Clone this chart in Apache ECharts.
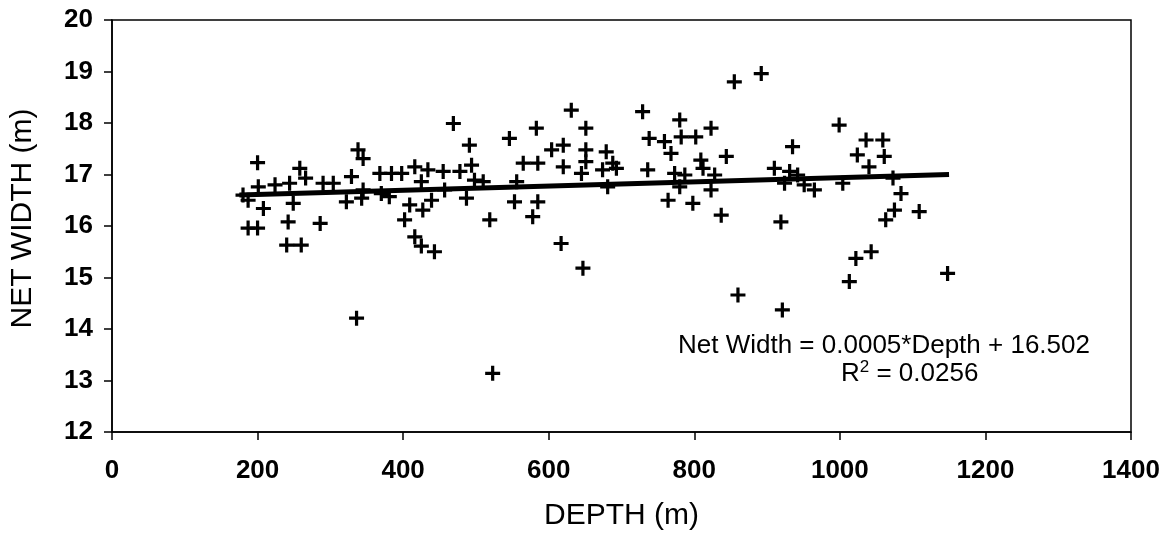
<!DOCTYPE html>
<html><head><meta charset="utf-8">
<script src="https://cdn.jsdelivr.net/npm/echarts@6/dist/echarts.min.js"></script>
<style>html,body{margin:0;padding:0;background:#fff}#c{width:1166px;height:541px}</style>
</head><body><div id="c"></div>
<script>
const depth = [200,258,266,338,345,329,180,201,224,244,187,208,249,290,304,322,343,345,187,200,242,286,240,260,336,
469,491,546,583,604,368,384,398,416,434,455,478,494,498,510,425,370,381,565,585,556,409,427,439,457,487,553,585,402,519,578,416,425,443,523,
855,631,729,651,780,823,738,759,782,802,768,844,620,651,679,620,651,688,645,674,693,736,773,787,809,812,828,681,780,823,764,798,837,617,647,860,
892,999,935,1036,1059,1024,1061,1040,910,931,942,924,951,965,1004,1073,1084,1075,1063,1109,919,1043,1022,1013,921,1148];
const netWidth = [17.23,17.12,16.93,17.48,17.31,16.96,16.60,16.76,16.80,16.83,16.50,16.34,16.44,16.83,16.83,16.47,16.54,16.70,15.96,15.96,16.08,16.05,15.63,15.63,14.21,
17.99,17.57,17.70,17.90,17.48,17.02,17.02,17.02,17.15,17.09,17.06,17.06,17.18,16.89,16.86,16.86,16.63,16.57,17.22,17.22,16.86,16.41,16.31,16.50,16.70,16.54,16.47,16.47,16.12,16.12,16.18,15.79,15.61,15.50,13.14,
18.80,18.25,18.22,17.90,18.06,17.90,17.70,17.64,17.73,17.73,17.41,17.35,17.57,17.48,17.44,17.15,17.25,17.22,17.02,17.09,17.12,17.09,17.02,16.99,17.28,17.12,16.99,16.76,16.76,16.70,16.50,16.44,16.21,15.66,15.18,14.66,
18.96,17.96,17.54,17.67,17.67,17.38,17.35,17.15,17.12,17.06,16.99,16.83,16.80,16.70,16.83,16.93,16.63,16.31,16.12,16.28,16.08,15.50,15.37,14.92,14.37,15.08];
const trendDepth = [175,1150];
const trendWidth = [16.60,17.00];
const xTicks = [0,200,400,600,800,1000,1200,1400];
const yTicks = [12,13,14,15,16,17,18,19,20];

const pts = depth.map((d,i)=>[d,netWidth[i]]);
const trend = trendDepth.map((d,i)=>[d,trendWidth[i]]);
const F = '"Liberation Sans", Arial, sans-serif';
const chart = echarts.init(document.getElementById('c'));
chart.setOption({
  animation:false,
  backgroundColor:'#fff',
  grid:{left:112,top:20,right:35,bottom:109,show:true,borderColor:'#000',borderWidth:1.5,backgroundColor:'transparent'},
  xAxis:{type:'value',min:0,max:1400,interval:200,
    name:'DEPTH (m)',nameLocation:'middle',nameGap:69,
    nameTextStyle:{fontFamily:F,fontSize:30,color:'#000'},
    axisLine:{lineStyle:{color:'#000',width:1.5}},
    axisTick:{length:8,lineStyle:{color:'#000',width:1.5}},
    axisLabel:{fontFamily:F,fontSize:26,fontWeight:'bold',color:'#000',margin:26,
      formatter:v=>xTicks.includes(v)?String(v):''},
    splitLine:{show:false}},
  yAxis:{type:'value',min:12,max:20,interval:1,
    name:'NET WIDTH (m)',nameLocation:'middle',nameGap:74,
    nameTextStyle:{fontFamily:F,fontSize:30,color:'#000',padding:[0,0,0,15]},
    axisLine:{lineStyle:{color:'#000',width:1.5}},
    axisTick:{length:8,lineStyle:{color:'#000',width:1.5}},
    axisLabel:{fontFamily:F,fontSize:26,fontWeight:'bold',color:'#000',margin:19,
      formatter:v=>yTicks.includes(v)?String(v):''},
    splitLine:{show:false}},
  series:[
    {type:'scatter',data:pts,symbol:'path://M5.5,0H8.5V5.5H14V8.5H8.5V14H5.5V8.5H0V5.5H5.5Z',symbolSize:15,
     itemStyle:{color:'#000',opacity:1},z:3},
    {type:'line',data:trend,showSymbol:false,lineStyle:{color:'#000',width:5},z:4}
  ],
  graphic:[
    {type:'text',left:678,top:333,style:{text:'Net Width = 0.0005*Depth + 16.502',fontFamily:F,fontSize:26,fill:'#000'}},
    {type:'text',left:841,top:359,style:{text:'R{s|2} = 0.0256',fontFamily:F,fontSize:26,fill:'#000',
      rich:{s:{fontSize:17,verticalAlign:'top',fontFamily:F,fill:'#000',padding:[0,0,12,0]}}}}
  ]
});
</script></body></html>
